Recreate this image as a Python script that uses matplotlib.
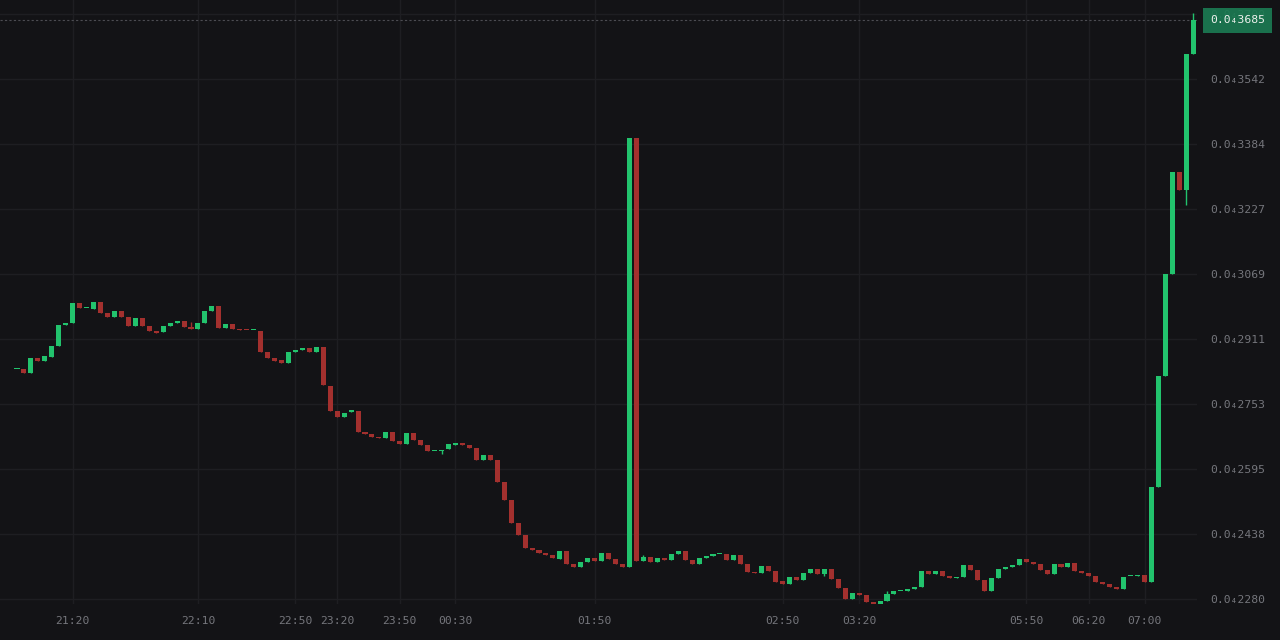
import numpy as np
import matplotlib
matplotlib.use("Agg")
import matplotlib.pyplot as plt
import matplotlib.transforms as mtransforms

# Price values in units of 1e-8 (0.0₄2280 = 0.00002280)
opens = [2838, 2839, 2829, 2865, 2859, 2868, 2894, 2945, 2949, 2998,
         2986, 2984, 3000, 2974, 2965, 2980, 2964, 2944, 2962, 2942,
         2931, 2929, 2943, 2949, 2956, 2941, 2936, 2951, 2978, 2991,
         2939, 2948, 2935, 2934, 2932, 2931, 2880, 2864, 2860, 2854,
         2879, 2884, 2889, 2879, 2893, 2798, 2737, 2721, 2735, 2736,
         2685, 2681, 2674, 2671, 2686, 2664, 2656, 2683, 2666, 2653,
         2640, 2640, 2644, 2655, 2659, 2653, 2647, 2618, 2630, 2618,
         2565, 2521, 2465, 2436, 2403, 2398, 2393, 2386, 2378, 2397,
         2365, 2357, 2369, 2379, 2372, 2393, 2378, 2365, 2359, 3399,
         2372, 2381, 2369, 2380, 2375, 2389, 2397, 2376, 2366, 2380,
         2385, 2389, 2390, 2376, 2387, 2364, 2346, 2344, 2360, 2348,
         2323, 2316, 2333, 2327, 2343, 2352, 2342, 2352, 2328, 2306,
         2280, 2295, 2289, 2273, 2267, 2275, 2292, 2299, 2300, 2305,
         2310, 2347, 2340, 2347, 2336, 2330, 2334, 2363, 2351, 2326,
         2300, 2330, 2352, 2357, 2362, 2377, 2371, 2364, 2351, 2340,
         2365, 2357, 2368, 2348, 2343, 2336, 2321, 2317, 2310, 2304,
         2336, 2336, 2338, 2322, 2552, 2821, 3070, 3317, 3273, 3603]
closes = [2839, 2829, 2865, 2859, 2870, 2894, 2945, 2951, 2998, 2986,
          2987, 3000, 2974, 2965, 2980, 2964, 2944, 2962, 2942, 2931,
          2927, 2943, 2949, 2956, 2941, 2936, 2951, 2978, 2991, 2939,
          2948, 2935, 2933, 2932, 2932, 2880, 2864, 2859, 2854, 2880,
          2884, 2889, 2880, 2893, 2800, 2736, 2721, 2732, 2736, 2685,
          2681, 2674, 2671, 2686, 2664, 2656, 2683, 2666, 2653, 2640,
          2640, 2643, 2656, 2659, 2653, 2647, 2618, 2630, 2618, 2565,
          2521, 2465, 2436, 2403, 2398, 2393, 2386, 2379, 2397, 2365,
          2357, 2369, 2379, 2372, 2393, 2378, 2365, 2359, 3399, 2373,
          2383, 2369, 2380, 2375, 2389, 2397, 2376, 2366, 2380, 2385,
          2389, 2389, 2376, 2387, 2364, 2345, 2343, 2360, 2348, 2322,
          2317, 2333, 2327, 2343, 2352, 2342, 2352, 2328, 2306, 2280,
          2295, 2289, 2273, 2268, 2275, 2292, 2299, 2300, 2305, 2310,
          2347, 2340, 2347, 2336, 2332, 2334, 2363, 2351, 2326, 2300,
          2330, 2352, 2357, 2362, 2377, 2371, 2364, 2351, 2340, 2365,
          2357, 2368, 2348, 2343, 2337, 2321, 2317, 2310, 2304, 2334,
          2336, 2338, 2322, 2552, 2821, 3070, 3317, 3273, 3603, 3685]

# Visible wicks (candle index -> price)
wick_highs = {25: 2953, 90: 2387, 125: 2300, 169: 3703}
wick_lows = {61: 2632, 116: 2336, 168: 3237}

# Time axis labels (candle index -> label)
time_ticks = [8, 26, 40, 46, 55, 63, 83, 110, 121, 145, 154, 162]
time_labels = ['21:20', '22:10', '22:50', '23:20', '23:50', '00:30',
               '01:50', '02:50', '03:20', '05:50', '06:20', '07:00']

price_ticks = [2280, 2438, 2595, 2753, 2911, 3069, 3227, 3384, 3542, 3700]
last_price = 3685

# Colors
bg = '#131316'
grid_color = '#1e1e22'
up_color = '#22c36d'
down_color = '#a3302e'
text_color = '#75767c'

opens = np.array(opens)
closes = np.array(closes)
highs = np.maximum(opens, closes).astype(float)
lows = np.minimum(opens, closes).astype(float)
for i, v in wick_highs.items():
    highs[i] = v
for i, v in wick_lows.items():
    lows[i] = v
x = np.arange(len(opens))
colors = [up_color if c >= o else down_color for o, c in zip(opens, closes)]

fig = plt.figure(figsize=(12.8, 6.4), dpi=100, facecolor=bg)
ax = fig.add_axes([0, 36 / 640, 1197 / 1280, 604 / 640])
ax.set_facecolor(bg)

mono = ['DejaVu Sans Mono', 'DejaVu Sans']

# Wicks and bodies
ax.vlines(x, lows, highs, colors=colors, linewidth=1, zorder=3)
body = np.maximum(np.abs(closes - opens), 3)
ax.bar(x, body, bottom=np.minimum(opens, closes), width=0.72,
       color=colors, linewidth=0, zorder=4)

# Last price line
ax.axhline(last_price, color='#4c4c52', linewidth=0.8, linestyle=(0, (2, 2)), zorder=2)

ax.set_xlim(-17 / 6.96, (1197 - 17) / 6.96)
ax.set_ylim(2268.1, 3734)

ax.set_xticks(time_ticks)
ax.set_xticklabels(time_labels, family=mono)
ax.set_yticks(price_ticks)
ax.set_yticklabels([f'0.0\u2084{v}' for v in price_ticks], family=mono)
ax.yaxis.tick_right()
ax.tick_params(axis='x', length=0, pad=9, labelsize=8.2, labelcolor=text_color)
ax.tick_params(axis='y', length=0, pad=9.4, labelsize=8.2, labelcolor=text_color)

ax.grid(True, color=grid_color, linewidth=1)
ax.set_axisbelow(True)
for side in ['top', 'right', 'left', 'bottom']:
    ax.spines[side].set_visible(False)

# Current price tag on the price scale
trans = mtransforms.blended_transform_factory(ax.transAxes, ax.transData)
ax.text(1.0109, last_price, f'0.0\u2084{last_price}', transform=trans,
        ha='left', va='center', fontsize=8.2, family=mono, color='#eef2ee',
        clip_on=False, zorder=10,
        bbox=dict(boxstyle='square,pad=0.65', facecolor='#1b7a52',
                  edgecolor='none', alpha=0.92))

fig.savefig('out.png', dpi=100, facecolor=bg)
